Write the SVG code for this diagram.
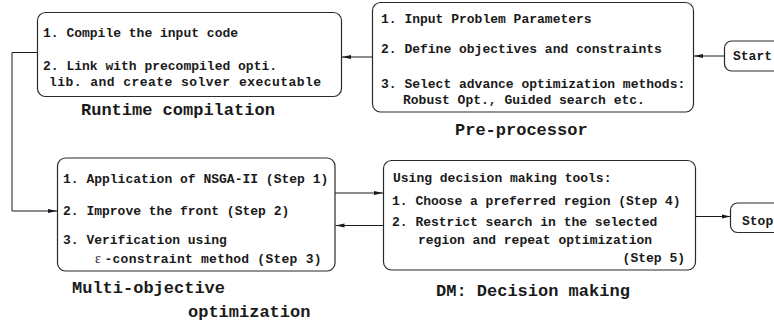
<svg xmlns="http://www.w3.org/2000/svg" width="774" height="323" viewBox="0 0 774 323">
  <defs>
    <style>
      .box { fill: #ffffff; stroke: #2a2a2a; stroke-width: 1.2; }
      .edge { fill: none; stroke: #1a1a1a; stroke-width: 1; }
      .item { font-family: "Liberation Mono", "DejaVu Sans Mono", monospace; font-weight: bold; font-size: 13px; fill: #1a1a1a; }
      .label { font-family: "Liberation Mono", "DejaVu Sans Mono", monospace; font-weight: bold; font-size: 17px; fill: #1a1a1a; }
      .greek { font-family: "Liberation Serif", "DejaVu Serif", serif; font-weight: normal; font-size: 14px; }
    </style>
    <marker id="arrow" markerUnits="userSpaceOnUse" markerWidth="10" markerHeight="6" refX="9" refY="3" orient="auto">
      <path d="M0,1 L9,3 L0,5 z" fill="#1a1a1a"/>
    </marker>
  </defs>

  <rect width="774" height="323" fill="#ffffff"/>

  <!-- connectors -->
  <g id="connectors">
    <line class="edge" x1="724" y1="56" x2="694" y2="56" marker-end="url(#arrow)"/>
    <line class="edge" x1="372.5" y1="57" x2="342" y2="57" marker-end="url(#arrow)"/>
    <polyline class="edge" points="37.5,52.5 12,52.5 12,211 57,211" marker-end="url(#arrow)"/>
    <line class="edge" x1="335" y1="193" x2="383" y2="193" marker-end="url(#arrow)"/>
    <line class="edge" x1="383.5" y1="225.5" x2="335.5" y2="225.5" marker-end="url(#arrow)"/>
    <line class="edge" x1="695.5" y1="216.5" x2="730.5" y2="216.5" marker-end="url(#arrow)"/>
  </g>

  <!-- runtime compilation -->
  <g id="runtime">
    <rect class="box" x="37.5" y="12.5" width="304" height="84" rx="8"/>
    <text class="item" x="43" y="36.5">1. Compile the input code</text>
    <text class="item" x="43" y="69.5">2. Link with precompiled opti.</text>
    <text class="item" x="49" y="86" textLength="272" lengthAdjust="spacing">lib. and create solver executable</text>
    <text class="label" x="81" y="114.5">Runtime compilation</text>
  </g>

  <!-- pre-processor -->
  <g id="preprocessor">
    <rect class="box" x="372.5" y="2.5" width="321" height="109.5" rx="8"/>
    <text class="item" x="381" y="22.5">1. Input Problem Parameters</text>
    <text class="item" x="381" y="52.5">2. Define objectives and constraints</text>
    <text class="item" x="381" y="88">3. Select advance optimization methods:</text>
    <text class="item" x="403" y="103.5">Robust Opt., Guided search etc.</text>
    <text class="label" x="455" y="135">Pre-processor</text>
  </g>

  <!-- start -->
  <g id="start">
    <rect class="box" x="724.5" y="41" width="60" height="30" rx="7"/>
    <text class="item" x="733" y="60">Start</text>
  </g>

  <!-- multi-objective optimization -->
  <g id="moo">
    <rect class="box" x="57.5" y="158" width="277.5" height="113" rx="8"/>
    <text class="item" x="63" y="182.5">1. Application of NSGA-II (Step 1)</text>
    <text class="item" x="63" y="215">2. Improve the front (Step 2)</text>
    <text class="item" x="63" y="243.5">3. Verification using</text>
    <text class="item" y="262.5"><tspan class="greek" x="95">ε</tspan><tspan x="104.5" textLength="217" lengthAdjust="spacing">-constraint method (Step 3)</tspan></text>
    <text class="label" x="72" y="292.5">Multi-objective</text>
    <text class="label" x="188" y="316.5">optimization</text>
  </g>

  <!-- decision making -->
  <g id="dm">
    <rect class="box" x="383.5" y="160.5" width="312" height="109.5" rx="8"/>
    <text class="item" x="393" y="181.5">Using decision making tools:</text>
    <text class="item" x="392" y="204.5">1. Choose a preferred region (Step 4)</text>
    <text class="item" x="392" y="225.5">2. Restrict search in the selected</text>
    <text class="item" x="418" y="243.5">region and repeat optimization</text>
    <text class="item" x="685" y="261.5" text-anchor="end">(Step 5)</text>
    <text class="label" x="436" y="295.5">DM: Decision making</text>
  </g>

  <!-- stop -->
  <g id="stop">
    <rect class="box" x="730.5" y="203" width="60" height="29.5" rx="7"/>
    <text class="item" x="742" y="225">Stop</text>
  </g>
</svg>
